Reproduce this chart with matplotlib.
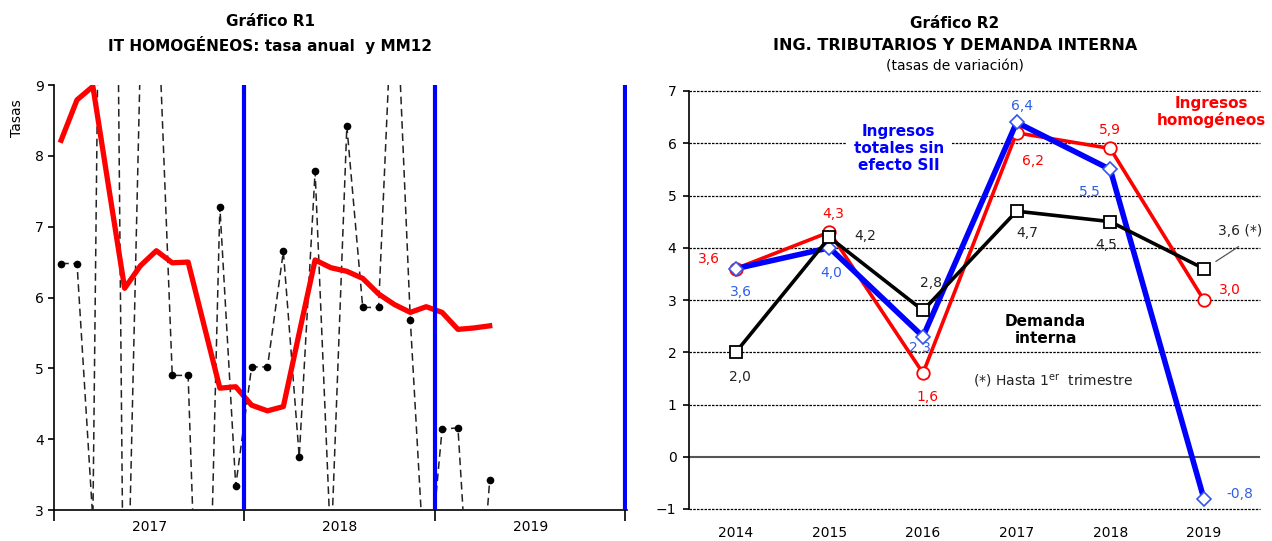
import matplotlib
matplotlib.use("Agg")
import matplotlib.pyplot as plt
import numpy as np

# ---- Gráfico R1: monthly data Jan-2017 .. Apr-2019 ----
tasa_anual = [6.48, 6.48, 2.85, 24.0, -0.4, 9.5, 10.7, 4.9, 4.9, -1.8, 7.28, 3.34,
              5.02, 5.02, 6.65, 3.75, 7.78, 2.4, 8.42, 5.86, 5.86, 11.0, 5.68, 1.7,
              4.14, 4.16, 0.5, 3.42]
mm12 = [8.22, 8.79, 8.98, 7.55, 6.13, 6.45, 6.66, 6.49, 6.50, 5.61, 4.72, 4.74,
        4.48, 4.40, 4.46, 5.50, 6.53, 6.42, 6.37, 6.27, 6.05, 5.90, 5.79, 5.87,
        5.79, 5.55, 5.57, 5.60]
years_r1 = ["2017", "2018", "2019"]

# ---- Gráfico R2: annual growth rates ----
years_r2 = ["2014", "2015", "2016", "2017", "2018", "2019"]
ing_homog = [3.6, 4.3, 1.6, 6.2, 5.9, 3.0]
ing_totales = [3.6, 4.0, 2.3, 6.4, 5.5, -0.8]
demanda = [2.0, 4.2, 2.8, 4.7, 4.5, 3.6]
lab_homog = ["3,6", "4,3", "1,6", "6,2", "5,9", "3,0"]
lab_totales = ["3,6", "4,0", "2,3", "6,4", "5,5", "-0,8"]
lab_demanda = ["2,0", "4,2", "2,8", "4,7", "4,5", "3,6 (*)"]

W, H = 1272, 541
fig = plt.figure(figsize=(W / 100, H / 100), dpi=100)

# ================= left chart =================
ax1 = fig.add_axes([54 / W, 31 / H, 573 / W, 425 / H])
xm = np.arange(len(mm12)) + 0.45
ax1.plot(xm, tasa_anual, color="#222222", lw=1.1, ls=(0, (5, 3)),
         marker="o", ms=4.5, mfc="black", mec="black", zorder=3)
ax1.plot(xm, mm12, color="#FF0000", lw=3.8, solid_joinstyle="round", zorder=4)
for xv in [12, 24, 36]:
    ax1.axvline(xv, color="#0000FF", lw=3, zorder=5)
ax1.set_xlim(0, 36.1)
ax1.set_ylim(3, 9)
ax1.set_yticks(range(3, 10))
ax1.set_xticks([0, 12, 24, 36])
ax1.set_xticklabels([])
ax1.set_xticks([6, 18, 30], minor=True)
ax1.set_xticklabels(years_r1, minor=True)
ax1.tick_params(axis="x", which="major", length=8, width=1.2, direction="out")
ax1.tick_params(axis="x", which="minor", length=0, pad=7, labelsize=10)
ax1.tick_params(axis="y", length=4, width=1.2, direction="out", labelsize=10)
for s in ["top", "right"]:
    ax1.spines[s].set_visible(False)
for s in ["left", "bottom"]:
    ax1.spines[s].set_linewidth(1.2)
fig.text(17 / W, 1 - 118 / H, "Tasas", rotation=90, ha="center", va="center",
         fontsize=10)
fig.text(270 / W, 1 - 22 / H, "Gráfico R1", ha="center", va="center",
         fontsize=11, fontweight="bold")
fig.text(270 / W, 1 - 45 / H, "IT HOMOGÉNEOS: tasa anual  y MM12", ha="center",
         va="center", fontsize=11, fontweight="bold")

# ================= right chart =================
ax2 = fig.add_axes([689 / W, 32 / H, 571 / W, 418 / H])
xc = np.arange(len(years_r2))
for yv in [-1, 1, 2, 3, 4, 5, 6, 7]:
    ax2.axhline(yv, color="black", lw=0.9, ls=(0, (2, 1)), zorder=1,
                clip_on=False)
ax2.axhline(0, color="#555555", lw=1.5, zorder=1)

ax2.plot(xc, ing_homog, color="#FF0000", lw=2.6, marker="o", ms=9,
         mfc="white", mec="#FF0000", mew=1.3, zorder=4)
ax2.plot(xc, ing_totales, color="#0000FF", lw=4, marker="D", ms=7,
         mfc="white", mec="#3355EE", mew=1.2, zorder=5)
ax2.plot(xc, demanda, color="black", lw=2.6, marker="s", ms=9,
         mfc="white", mec="black", mew=1.3, zorder=6)

blue_lab = "#2F5FE8"
off_homog = [(-19, 7), (3, 13), (3, -17), (12, -20), (0, 13), (19, 7)]
off_totales = [(4, -17), (1, -18), (-2, -8), (4, 12), (-15, -16), (26, 3)]
off_demanda = [(3, -18), (26, 1), (6, 20), (8, -16), (-3, -17), (26, 27)]
for i in range(len(xc)):
    ax2.annotate(lab_homog[i], (xc[i], ing_homog[i]), xytext=off_homog[i],
                 textcoords="offset points", ha="center", va="center",
                 color="#FF0000", fontsize=10, zorder=7)
    ax2.annotate(lab_totales[i], (xc[i], ing_totales[i]), xytext=off_totales[i],
                 textcoords="offset points", ha="center", va="center",
                 color=blue_lab, fontsize=10, zorder=7)
    ax2.annotate(lab_demanda[i], (xc[i], demanda[i]), xytext=off_demanda[i],
                 textcoords="offset points", ha="center", va="center",
                 color="#222222", fontsize=10, zorder=7)
ax2.plot([5.13, 5.37], [3.74, 4.02], color="#555555", lw=0.9, zorder=7)

box = dict(boxstyle="square,pad=0.25", fc="white", ec="none")
ax2.text(5.08, 6.6, "Ingresos\nhomogéneos", color="#FF0000", fontsize=11,
         fontweight="bold", ha="center", va="center", linespacing=1.1,
         bbox=box, zorder=3, clip_on=False)
ax2.text(1.74, 5.9, "Ingresos\ntotales sin\nefecto SII", color="#0000FF",
         fontsize=11, fontweight="bold", ha="center", va="center",
         linespacing=1.15, bbox=dict(boxstyle="square,pad=0.45", fc="white",
                                      ec="none"), zorder=3)
ax2.text(3.31, 2.43, "Demanda\ninterna", color="black", fontsize=11,
         fontweight="bold", ha="center", va="center", linespacing=1.15,
         bbox=box, zorder=3)
ax2.text(3.39, 1.46, r"(*) Hasta 1$^{\rm er}$  trimestre", color="#222222",
         fontsize=10, ha="center", va="center", zorder=3)

ax2.set_xlim(-0.5, 5.6)
ax2.set_ylim(-1, 7)
ax2.set_yticks(range(-1, 8))
ax2.set_xticks(xc)
ax2.set_xticklabels(years_r2)
ax2.tick_params(axis="x", length=0, pad=12, labelsize=10)
ax2.tick_params(axis="y", length=4, width=1.2, direction="out", labelsize=10,
                pad=5)
for s in ["top", "right", "bottom"]:
    ax2.spines[s].set_visible(False)
ax2.spines["left"].set_linewidth(1.2)

fig.text(955 / W, 1 - 24 / H, "Gráfico R2", ha="center", va="center",
         fontsize=11, fontweight="bold")
fig.text(955 / W, 1 - 46 / H, "ING. TRIBUTARIOS Y DEMANDA INTERNA",
         ha="center", va="center", fontsize=11.5, fontweight="bold")
fig.text(955 / W, 1 - 67 / H, "(tasas de variación)", ha="center",
         va="center", fontsize=10)

fig.savefig("out.png", dpi=100)
